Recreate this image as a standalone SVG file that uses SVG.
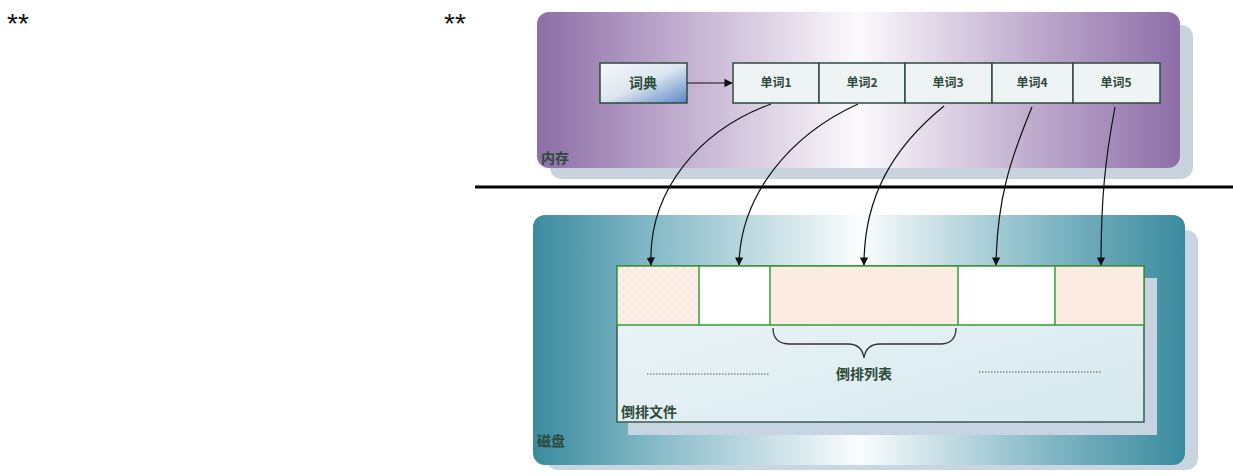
<svg xmlns="http://www.w3.org/2000/svg" width="1233" height="476" viewBox="0 0 1233 476">
<style>
.t{font-family:"Noto Sans CJK SC","Liberation Sans",sans-serif;font-weight:bold;fill:#2e4a3a;}
.cell{fill:#eef3f4;stroke:#2f4a40;stroke-width:1.5;}
.dc{stroke:#3a9a3a;stroke-width:1.5;}
.conn{fill:none;stroke:#111;stroke-width:1.2;marker-end:url(#ah);}
.dots{stroke:#555;stroke-width:1.2;stroke-dasharray:1.5 1.5;}
.star{font-family:"Liberation Sans",sans-serif;font-size:28px;fill:#111;}
</style>
<defs>
<marker id="ah" viewBox="0 0 10 10" refX="9" refY="5" markerWidth="7" markerHeight="7" orient="auto"><path d="M0,0 L10,5 L0,10 z" fill="#111"/></marker>
<linearGradient id="gm" x1="0" y1="0" x2="1" y2="0">
<stop offset="0" stop-color="#8b6ea6"/><stop offset="0.2" stop-color="#bca7cb"/><stop offset="0.5" stop-color="#fbfafc"/><stop offset="0.8" stop-color="#b8a3c8"/><stop offset="1" stop-color="#8d6fa8"/></linearGradient>
<linearGradient id="gd" x1="0" y1="0" x2="1" y2="0">
<stop offset="0" stop-color="#3a8b9e"/><stop offset="0.2" stop-color="#8bbdca"/><stop offset="0.5" stop-color="#fbfdfd"/><stop offset="0.8" stop-color="#7fb5c3"/><stop offset="1" stop-color="#3a8b9e"/></linearGradient>
<linearGradient id="gdict" x1="0" y1="0" x2="1" y2="1">
<stop offset="0" stop-color="#f4f7f8"/><stop offset="0.5" stop-color="#dde6f0"/><stop offset="1" stop-color="#5b86c4"/></linearGradient>
<linearGradient id="gin" x1="0" y1="0" x2="1" y2="1">
<stop offset="0" stop-color="#eef5f8"/><stop offset="1" stop-color="#d6e9ef"/></linearGradient>
<pattern id="hatch" width="8" height="8" patternUnits="userSpaceOnUse">
<rect width="8" height="8" fill="#fcefe7"/><path d="M0,0 L8,8 M8,0 L0,8" stroke="#f4dfd2" stroke-width="0.6"/></pattern>
</defs>
<rect width="1233" height="476" fill="#fff"/>
<text class="star" x="7" y="33">**</text>
<text class="star" x="444" y="33">**</text>

<g id="memory">
<rect x="550" y="25" width="643" height="154" rx="12" fill="#c9d3de"/>
<rect x="537" y="12" width="643" height="156" rx="12" fill="url(#gm)"/>
<text class="t" x="541" y="163" font-size="14">内存</text>
</g>

<line x1="475" y1="187" x2="1233" y2="187" stroke="#000" stroke-width="3"/>

<g id="disk">
<rect x="546" y="230" width="652" height="240" rx="12" fill="#c9d5e0"/>
<rect x="533" y="215" width="652" height="250" rx="12" fill="url(#gd)"/>
<text class="t" x="537" y="446" font-size="14">磁盘</text>
</g>

<g id="dict">
<rect x="600" y="63" width="87" height="40" fill="url(#gdict)" stroke="#2f4a40" stroke-width="1.5"/>
<text class="t" x="643" y="88" font-size="14" text-anchor="middle">词典</text>
</g>

<g id="words">
<rect class="cell" x="733" y="63" width="86" height="40"/>
<rect class="cell" x="819" y="63" width="86" height="40"/>
<rect class="cell" x="905" y="63" width="87" height="40"/>
<rect class="cell" x="992" y="63" width="81" height="40"/>
<rect class="cell" x="1073" y="63" width="87" height="40"/>
<text class="t" x="776" y="87" font-size="12" text-anchor="middle">单词1</text>
<text class="t" x="862" y="87" font-size="12" text-anchor="middle">单词2</text>
<text class="t" x="948" y="87" font-size="12" text-anchor="middle">单词3</text>
<text class="t" x="1032" y="87" font-size="12" text-anchor="middle">单词4</text>
<text class="t" x="1116" y="87" font-size="12" text-anchor="middle">单词5</text>
</g>

<g id="invfile">
<rect x="628" y="278" width="529" height="157" fill="#c7d5e2"/>
<rect x="617" y="266" width="527" height="156" fill="url(#gin)" stroke="#3b5a4a" stroke-width="1.5"/>
<rect x="617" y="266" width="82" height="59" fill="url(#hatch)"/>
<rect x="699" y="266" width="71" height="59" fill="#fff"/>
<rect x="770" y="266" width="188" height="59" fill="#fcebe0"/>
<rect x="958" y="266" width="97" height="59" fill="#fff"/>
<rect x="1055" y="266" width="89" height="59" fill="#fcebe0"/>
<rect x="617" y="266" width="527" height="59" fill="none" class="dc"/>
<line class="dc" x1="699" y1="266" x2="699" y2="325"/>
<line class="dc" x1="770" y1="266" x2="770" y2="325"/>
<line class="dc" x1="958" y1="266" x2="958" y2="325"/>
<line class="dc" x1="1055" y1="266" x2="1055" y2="325"/>
<line class="dots" x1="647" y1="374" x2="770" y2="374"/>
<line class="dots" x1="979" y1="372" x2="1102" y2="372"/>
<path d="M773,328 Q773,344 790,344 L848,344 Q862,344 864,358 Q866,344 880,344 L940,344 Q956,344 956,328" fill="none" stroke="#333" stroke-width="1.3"/>
<text class="t" x="864" y="379" font-size="14" text-anchor="middle">倒排列表</text>
<text class="t" x="621" y="417" font-size="14">倒排文件</text>
</g>

<g id="connectors">
<line class="conn" x1="687" y1="83" x2="732" y2="83"/>
<path class="conn" d="M771,104 C700,130 648,190 651,265"/>
<path class="conn" d="M858,104 C790,135 740,195 739,265"/>
<path class="conn" d="M944,106 C890,150 864,200 864,265"/>
<path class="conn" d="M1032,107 C1010,160 997,200 996,265"/>
<path class="conn" d="M1115,107 C1105,160 1101,200 1101,265"/>
</g>
</svg>
